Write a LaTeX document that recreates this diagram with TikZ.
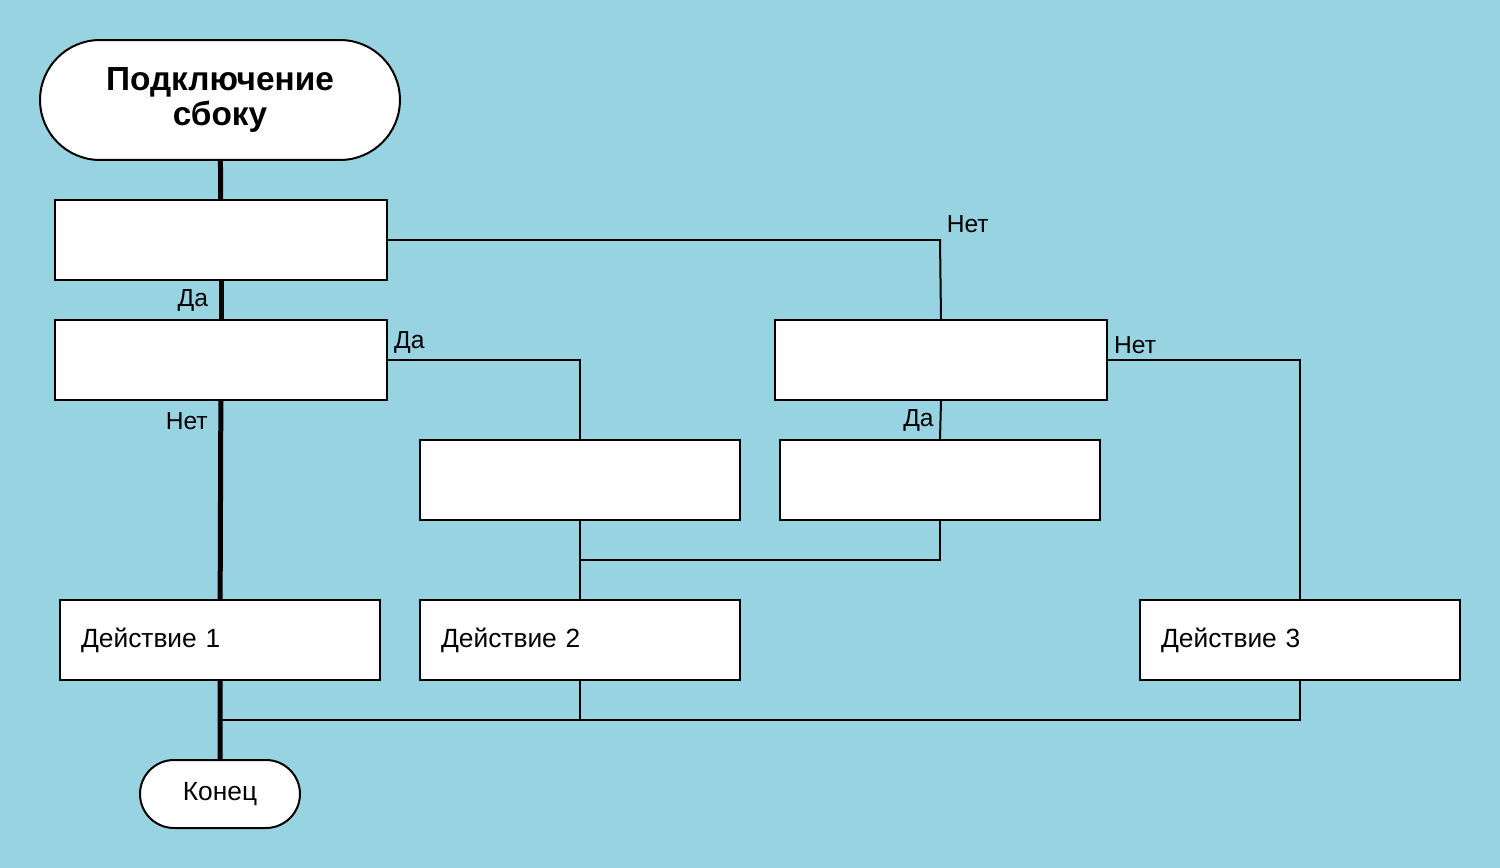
\documentclass[tikz,border=0pt]{standalone}
\usepackage{fontspec}
\setmainfont{Liberation Sans}
\usetikzlibrary{shapes.misc}
\definecolor{bgblue}{RGB}{152,211,225}
\tikzset{
  box/.style={draw, fill=white, line width=0.04cm, minimum width=6.4cm,
    minimum height=1.6cm, inner xsep=0.42cm, text width=5.56cm, align=left,
    font=\fontsize{15}{18}\selectfont},
  question/.style={draw, fill=white, line width=0.04cm, chamfered rectangle,
    chamfered rectangle xsep=0.8cm, chamfered rectangle ysep=0.8cm,
    minimum width=6.64cm, minimum height=1.6cm, inner sep=0pt},
  term/.style={draw, fill=white, line width=0.04cm, rounded rectangle,
    inner sep=0pt},
  thin/.style={line width=0.04cm},
  thick line/.style={line width=0.1cm},
  lbl/.style={font=\fontsize{14}{16}\selectfont}
}
\begin{document}
\begin{tikzpicture}[x=0.02cm,y=-0.02cm]
\fill[bgblue] (0,0) rectangle (1500,868);
\useasboundingbox (0,0) rectangle (1500,868);

% main column
\node[term, minimum width=7.2cm, minimum height=2.4cm, align=center,
  font=\bfseries\fontsize{19}{20}\selectfont] (start) at (220,100) {Подключение\\сбоку};
\node[question] (q1) at (221,240) {};
\node[question] (q2) at (221,360) {};
\node[box] (act1) at (220,640) {Действие 1};
\node[term, minimum width=3.2cm, minimum height=1.36cm,
  font=\fontsize{15}{18}\selectfont] (finish) at (220,794) {Конец};

% side branches
\node[question] (q3) at (941,360) {};
\node[box] (boxA) at (580,480) {};
\node[box] (boxB) at (940,480) {};
\node[box] (act2) at (580,640) {Действие 2};
\node[box] (act3) at (1300,640) {Действие 3};

\coordinate (join) at (220,720);

% thick spine
\draw[thick line] (start) -- (q1);
\draw[thick line] (q1) -- (q2) node[pos=0.5, left, lbl, inner sep=6pt] {Да};
\draw[thick line] (q2) -- (act1) node[pos=0.1, left, lbl, inner sep=6pt] {Нет};
\draw[thick line] (act1) -- (finish);

% branch lines
\draw[thin] (q1.east) -- (940,240) -- (q3.north)
  node[pos=0, above right, lbl] at (q1.east) {Нет};
\draw[thin] (q2.east) -- (580,360) -- (boxA.north);
\node[above right, lbl] at (q2.east) {Да};
\draw[thin] (q3.east) -- (1300,360) -- (act3.north);
\node[above right, lbl] at (q3.east) {Нет};
\draw[thin] (q3.south) -- (boxB.north) node[midway, left, lbl] {Да};
\draw[thin] (boxA.south) -- (act2.north);
\draw[thin] (boxB.south) -- (940,560) -- (580,560);
\draw[thin] (act2.south) -- (580,720);
\draw[thin] (act3.south) -- (1300,720) -- (join);
\end{tikzpicture}
\end{document}
